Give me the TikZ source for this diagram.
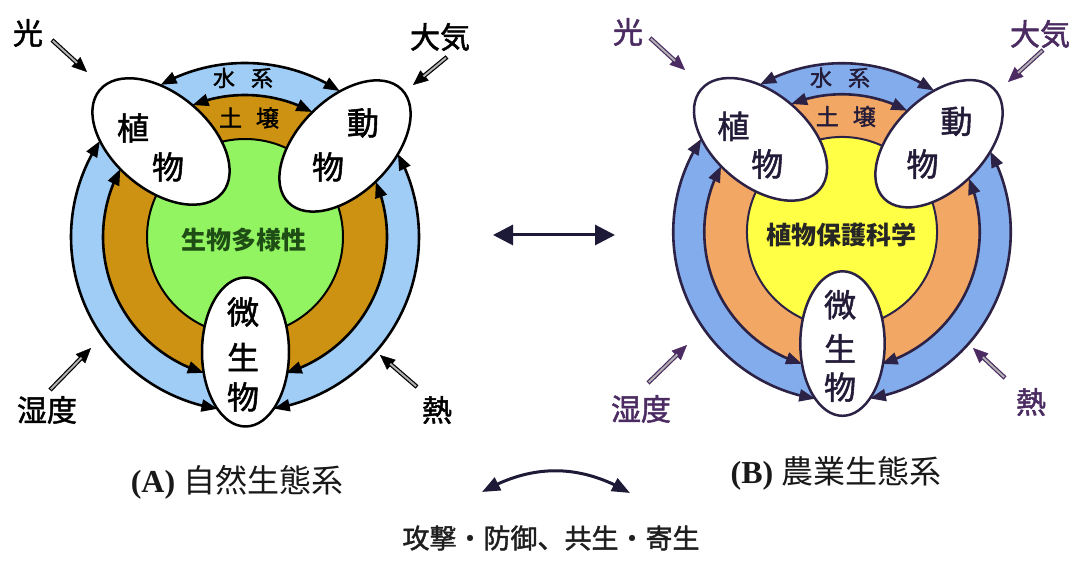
\documentclass[tikz,border=0pt]{standalone}
\usepackage{fontspec}
\setmainfont{Liberation Serif}
\newfontfamily\jp{Noto Sans CJK JP}
\newfontfamily\jpm{Noto Sans CJK JP}[FakeBold=1.6]
\usetikzlibrary{arrows.meta,shapes.geometric,bending}
\definecolor{Ablue}{HTML}{9FCDF6}
\definecolor{Amid}{HTML}{CD9212}
\definecolor{Acore}{HTML}{93F461}
\definecolor{Acoretxt}{HTML}{1E4D16}
\definecolor{Bblue}{HTML}{82ACEC}
\definecolor{Bmid}{HTML}{F2A765}
\definecolor{Bcore}{HTML}{FFFF45}
\definecolor{Bline}{HTML}{2C2245}
\definecolor{Btxt}{HTML}{4B2B62}
\definecolor{navy}{HTML}{1C1A36}
\newcommand\jpf[1]{\jp\fontsize{#1}{#1}\selectfont}
\newcommand\jpmf[1]{\jpm\fontsize{#1}{#1}\selectfont}

% #1 name prefix, #2 core text, #3 size factor
\newcommand\ecodiagram[3]{%
  \fill[ringblue] (0,0) circle[radius=174];
  \fill[ringmid] (0,0) circle[radius=142];
  \filldraw[fill=core, draw=lineC, line width=2pt] (0,0) circle[radius=98];
  \draw[ringarc] (119:174) arc[start angle=119, end angle=57, radius=174];
  \draw[ringarc] (146.5:174) arc[start angle=146.5, end angle=260.9, radius=174];
  \draw[ringarc] (28.5:174) arc[start angle=28.5, end angle=-80.5, radius=174];
  \draw[ringarc] (111.7:142) arc[start angle=111.7, end angle=61.7, radius=142];
  \draw[ringarc] (151.4:142) arc[start angle=151.4, end angle=253.1, radius=142];
  \draw[ringarc] (22.9:142) arc[start angle=22.9, end angle=-73.3, radius=142];
  \node[eco, minimum width={#3*160pt}, minimum height={#3*96pt}, rotate=-40] (#1plant) at (-84,95.5) {};
  \node[eco, minimum width={#3*160pt}, minimum height={#3*94pt}, rotate=45] (#1animal) at (100,91) {};
  \node[eco, minimum width={#3*87pt}, minimum height={#3*149pt}] (#1microbe) at (0.5,-115) {};
  \node[txt, font=\jpmf{22}] (#1water) at (-2,159) {水\hspace{16pt}系};
  \node[txt, font=\jpmf{23}] (#1soil) at (4,119) {土\hspace{14pt}壌};
  \node[txt, font=\jpmf{32}] (#1pa) at (-112,109) {植};
  \node[txt, font=\jpmf{32}] (#1pb) at (-77,70) {物};
  \node[txt, font=\jpmf{32}] (#1aa) at (118,114) {動};
  \node[txt, font=\jpmf{32}] (#1ab) at (83,70) {物};
  \node[txt, font=\jpmf{32}] (#1ma) at (-2,-75) {微};
  \node[txt, font=\jpmf{32}] (#1mb) at (-2,-120) {生};
  \node[txt, font=\jpmf{32}] (#1mc) at (-2,-160) {物};
  \node[text=coreT, font=\jpf{25}\bfseries, inner sep=0] (#1core) at (-1,-3) {#2};
}

\newcommand\inarr[3]{%
  \draw[#1, line width=0.4pt, -{Triangle[length=15pt,width=13pt]}] (#2) -- (#3);
  \draw[#1, line width=4.4pt, shorten >=13pt] (#2) -- (#3);
  \draw[gray!60, line width=2pt, shorten >=13.5pt, shorten <=1.2pt] (#2) -- (#3);
}

\begin{document}
\begin{tikzpicture}[x=1pt,y=1pt,
  ringarc/.style={line width=2.6pt, draw=lineC, >={Triangle[length=16pt,width=12pt]}, <->},
  eco/.style={ellipse, draw=lineC, fill=white, line width=2.5pt, inner sep=0pt},
  txt/.style={text=txtC, inner sep=0pt},
  outlbl/.style={font=\jpmf{30}, inner sep=0pt},
  bigarrow/.style={draw=navy, line width=3pt, >={Triangle[length=20pt,width=20pt]}, <->}]
\useasboundingbox (0,0) rectangle (1073,561);
\fill[white] (0,0) rectangle (1073,561);

% ---- (A) natural ecosystem
\colorlet{ringblue}{Ablue}\colorlet{ringmid}{Amid}\colorlet{core}{Acore}
\colorlet{lineC}{black}\colorlet{txtC}{black}\colorlet{coreT}{Acoretxt}
\begin{scope}[shift={(245,324)}]
  \ecodiagram{L}{生物多様性}{1}
\end{scope}

% ---- (B) agricultural ecosystem
\colorlet{ringblue}{Bblue}\colorlet{ringmid}{Bmid}\colorlet{core}{Bcore}
\colorlet{lineC}{Bline}\colorlet{txtC}{Bline!80!black}\colorlet{coreT}{black!85}
\begin{scope}[shift={(842,329)}, scale=0.97]
  \ecodiagram{R}{植物保護科学}{0.97}
\end{scope}

% ---- outside factors (A)
\node[outlbl] (Llight) at (28,528) {光};
\node[outlbl] (Lair) at (440,524) {大気};
\node[outlbl] (Lhum) at (47,151) {湿度};
\node[outlbl] (Lheat) at (437,151) {熱};
\coordinate (Llight1) at (52,521); \coordinate (Llight2) at (87,489);
\coordinate (Lair1) at (447,504);  \coordinate (Lair2) at (413,476);
\coordinate (Lhum1) at (50,171);   \coordinate (Lhum2) at (91,213);
\coordinate (Lheat1) at (417,174); \coordinate (Lheat2) at (380,206);
\inarr{black}{Llight1}{Llight2}
\inarr{black}{Lair1}{Lair2}
\inarr{black}{Lhum1}{Lhum2}
\inarr{black}{Lheat1}{Lheat2}

% ---- outside factors (B)
\node[outlbl, text=Btxt] (Rlight) at (628,529) {光};
\node[outlbl, text=Btxt] (Rair) at (1040,527) {大気};
\node[outlbl, text=Btxt] (Rhum) at (641,152) {湿度};
\node[outlbl, text=Btxt] (Rheat) at (1031,159) {熱};
\coordinate (Rlight1) at (650,523); \coordinate (Rlight2) at (685,491);
\coordinate (Rair1) at (1043,511);  \coordinate (Rair2) at (1008,479);
\coordinate (Rhum1) at (648,178);   \coordinate (Rhum2) at (687,216);
\coordinate (Rheat1) at (1005,183); \coordinate (Rheat2) at (973,213);
\inarr{Btxt}{Rlight1}{Rlight2}
\inarr{Btxt}{Rair1}{Rair2}
\inarr{Btxt}{Rhum1}{Rhum2}
\inarr{Btxt}{Rheat1}{Rheat2}

% ---- centre arrow
\coordinate (cl) at (493,326); \coordinate (cr) at (615,326);
\draw[bigarrow] (cl) -- (cr);

% ---- captions
\node[inner sep=0, font=\fontsize{32}{32}\selectfont, text=black!90] (capA) at (237,79) {\textbf{(A)} {\jp 自然生態系}};
\node[inner sep=0, font=\fontsize{32}{32}\selectfont, text=black!90] (capB) at (836,88) {\textbf{(B)} {\jp 農業生態系}};

% ---- interaction arrow and text
\coordinate (il) at (482,69); \coordinate (ir) at (630,68);
\draw[draw=navy, line width=3pt, >={Triangle[length=18pt,width=14pt]}, <->] (il) to[bend left=30] (ir);
\node[inner sep=0, font=\jpmf{27}, text=black!88] (inter) at (551,23) {攻撃・防御、共生・寄生};
\end{tikzpicture}
\end{document}
